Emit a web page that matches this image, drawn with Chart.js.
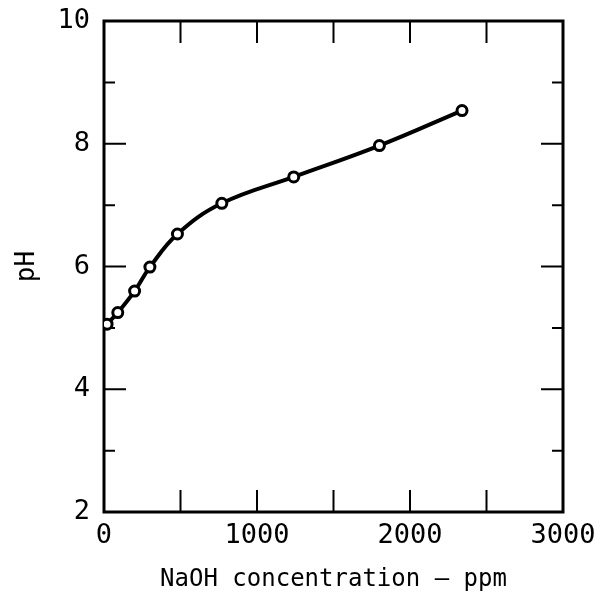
<!DOCTYPE html>
<html>
<head>
<meta charset="utf-8">
<script src="https://cdn.jsdelivr.net/npm/chart.js@4/dist/chart.umd.min.js"></script>
<style>
  html, body { margin: 0; padding: 0; background: #fff; }
  #wrap { width: 606px; height: 602px; }
</style>
</head>
<body>
<div id="wrap"><canvas id="phChart" width="606" height="602"></canvas></div>
<script>
'use strict';
// NaOH concentration (ppm) vs pH
var naohPpm = [20, 90, 200, 300, 480, 770, 1240, 1800, 2340];
var phValues = [5.06, 5.25, 5.60, 5.99, 6.53, 7.03, 7.46, 7.97, 8.54];
var xTickValues = [0, 1000, 2000, 3000];
var yTickValues = [2, 4, 6, 8, 10];

var fontFam = '"DejaVu Sans Mono", "Liberation Mono", monospace';

var points = [];
for (var i = 0; i < naohPpm.length; i++) {
  points.push({ x: naohPpm[i], y: phValues[i] });
}

// ticks point inward on all four sides, plus a heavy frame
var innerTicks = {
  id: 'innerTicks',
  beforeDatasetsDraw: function (chart) {
    var ctx = chart.ctx;
    var area = chart.chartArea;
    var xs = chart.scales.x;
    var ys = chart.scales.y;
    ctx.save();
    ctx.strokeStyle = '#000';
    ctx.lineWidth = 2;
    xs.ticks.forEach(function (t) {
      var px = xs.getPixelForValue(t.value);
      ctx.beginPath();
      ctx.moveTo(px, area.bottom);
      ctx.lineTo(px, area.bottom - 22);
      ctx.moveTo(px, area.top);
      ctx.lineTo(px, area.top + 22);
      ctx.stroke();
    });
    ys.ticks.forEach(function (t) {
      var py = ys.getPixelForValue(t.value);
      var len = (t.value % 2 === 0) ? 22 : 11;
      ctx.beginPath();
      ctx.moveTo(area.left, py);
      ctx.lineTo(area.left + len, py);
      ctx.moveTo(area.right, py);
      ctx.lineTo(area.right - len, py);
      ctx.stroke();
    });
    ctx.lineWidth = 3;
    ctx.strokeRect(area.left, area.top, area.right - area.left, area.bottom - area.top);
    ctx.restore();
  }
};

var ctx = document.getElementById('phChart').getContext('2d');
var phChart = new Chart(ctx, {
  type: 'line',
  data: {
    datasets: [{
      data: points,
      borderColor: '#000',
      borderWidth: 4,
      tension: 0.4,
      fill: false,
      pointRadius: 5,
      pointBorderWidth: 3,
      pointBackgroundColor: '#fff',
      pointBorderColor: '#000'
    }]
  },
  options: {
    responsive: false,
    animation: false,
    layout: { padding: { left: 0, right: 43, top: 21, bottom: 0 } },
    plugins: {
      legend: { display: false },
      tooltip: { enabled: false }
    },
    scales: {
      x: {
        type: 'linear',
        min: 0,
        max: 3000,
        afterFit: function (s) { s.height = 90; },
        grid: { display: false, drawTicks: false },
        border: { display: false },
        ticks: {
          stepSize: 500,
          padding: 8,
          maxRotation: 0,
          autoSkip: false,
          color: '#000',
          font: { family: fontFam, size: 27 },
          callback: function (v) { return xTickValues.indexOf(v) >= 0 ? String(v) : ''; }
        },
        title: {
          display: true,
          text: 'NaOH concentration — ppm',
          color: '#000',
          font: { family: fontFam, size: 24 },
          padding: { top: 0, bottom: 8 }
        }
      },
      y: {
        type: 'linear',
        min: 2,
        max: 10,
        afterFit: function (s) { s.width = 104; },
        grid: { display: false, drawTicks: false },
        border: { display: false },
        ticks: {
          stepSize: 1,
          padding: 14,
          autoSkip: false,
          color: '#000',
          font: { family: fontFam, size: 27, lineHeight: 0.4 },
          callback: function (v) { return yTickValues.indexOf(v) >= 0 ? String(v) : ''; }
        },
        title: {
          display: true,
          text: 'pH',
          color: '#000',
          font: { family: fontFam, size: 26 },
          padding: { top: 12, bottom: 0 }
        }
      }
    }
  },
  plugins: [innerTicks]
});
</script>
</body>
</html>
